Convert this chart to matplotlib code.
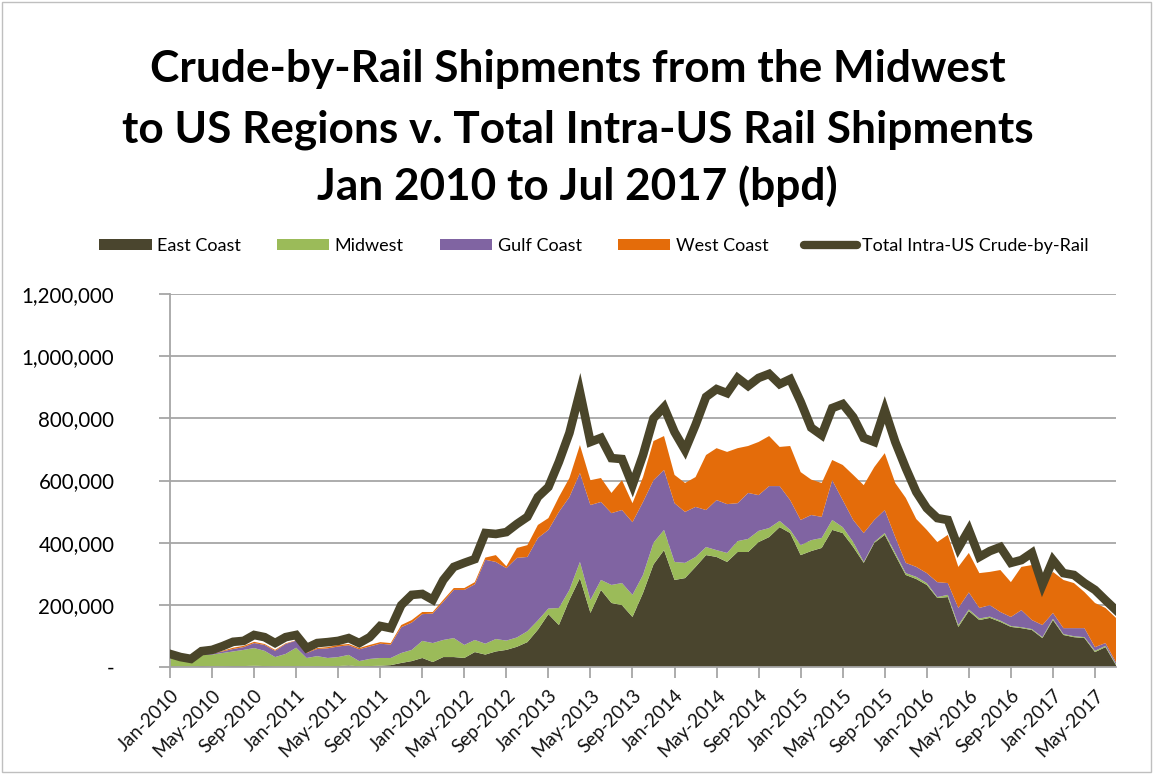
import matplotlib
matplotlib.use("Agg")
import matplotlib.pyplot as plt
from matplotlib.patches import Patch, Rectangle
from matplotlib.lines import Line2D
from matplotlib.ticker import FuncFormatter, FixedLocator
import matplotlib.transforms as mtransforms

plt.rcParams['font.family'] = ['Lato', 'DejaVu Sans']

# Monthly crude-by-rail volumes, thousand barrels per day, Jan 2010 .. Jul 2017
east_coast = [2, 1, 1, 3, 2, 2, 3, 3, 4, 3, 2, 2, 2, 1, 2, 2, 3, 5, 2, 3,
              4, 6, 13, 19, 29, 16, 32, 32, 29, 48, 40, 50, 55, 65, 80, 120, 170, 135, 216, 286,
              174, 248, 206, 199, 161, 238, 330, 376, 280, 286, 322, 360, 354, 338, 370, 370, 402, 418, 450, 431,
              360, 373, 383, 441, 431, 386, 335, 399, 425, 360, 296, 283, 264, 222, 225, 129, 180, 151, 158, 145,
              129, 125, 119, 93, 151, 103, 96, 93, 48, 64, 6]
midwest = [28, 21, 17, 35, 38, 43, 47, 52, 57, 49, 30, 40, 60, 28, 33, 27, 29, 34, 17, 23,
           25, 23, 32, 36, 55, 61, 55, 61, 42, 39, 35, 40, 30, 30, 35, 30, 18, 55, 32, 52,
           42, 32, 58, 71, 71, 58, 70, 65, 58, 49, 32, 26, 22, 29, 35, 42, 36, 29, 20, 10,
           32, 35, 32, 32, 19, 16, 3, 3, 6, 7, 6, 7, 6, 3, 7, 6, 5, 5, 4, 4,
           3, 3, 3, 3, 4, 3, 3, 3, 4, 4, 3]
gulf_coast = [2, 2, 2, 2, 3, 5, 8, 9, 16, 19, 20, 32, 23, 16, 23, 31, 34, 31, 38, 40,
              46, 43, 83, 88, 86, 95, 123, 155, 177, 179, 270, 248, 233, 256, 239, 265, 253, 309, 299, 286,
              305, 251, 231, 235, 234, 235, 201, 193, 189, 164, 161, 119, 161, 157, 122, 148, 115, 135, 112, 96,
              81, 81, 68, 128, 87, 71, 93, 71, 74, 51, 33, 32, 32, 48, 38, 55, 55, 34, 37, 28,
              29, 55, 29, 39, 19, 19, 26, 29, 12, 9, 6]
west_coast = [1, 1, 1, 1, 1, 2, 4, 4, 4, 3, 3, 2, 1, 2, 3, 4, 5, 4, 4, 5,
              5, 5, 7, 8, 7, 5, 6, 6, 6, 7, 7, 22, 6, 32, 38, 42, 38, 48, 61, 90,
              80, 77, 65, 96, 61, 80, 126, 109, 91, 93, 96, 177, 167, 168, 177, 151, 171, 161, 126, 174,
              154, 114, 109, 65, 113, 145, 154, 170, 183, 174, 209, 154, 139, 129, 155, 132, 127, 112, 107, 135,
              112, 139, 177, 120, 132, 155, 145, 116, 142, 113, 143]
total_intra_us = [42, 32, 26, 51, 55, 67, 81, 84, 103, 96, 77, 96, 103, 61, 77, 80, 84, 93, 77, 96,
                  132, 125, 199, 232, 235, 216, 280, 322, 335, 347, 431, 428, 434, 460, 483, 547, 579, 660, 753, 885,
                  724, 737, 672, 669, 585, 682, 800, 836, 756, 698, 779, 869, 894, 881, 930, 904, 930, 943, 910, 926,
                  853, 770, 746, 833, 846, 804, 737, 724, 827, 724, 640, 563, 511, 479, 473, 383, 441, 354, 373, 386,
                  335, 344, 367, 264, 344, 302, 296, 270, 248, 215, 183]

series_names = ["East Coast", "Midwest", "Gulf Coast", "West Coast"]
total_name = "Total Intra-US Crude-by-Rail"
tick_labels = ["Jan-2010", "May-2010", "Sep-2010", "Jan-2011", "May-2011", "Sep-2011",
               "Jan-2012", "May-2012", "Sep-2012", "Jan-2013", "May-2013", "Sep-2013",
               "Jan-2014", "May-2014", "Sep-2014", "Jan-2015", "May-2015", "Sep-2015",
               "Jan-2016", "May-2016", "Sep-2016", "Jan-2017", "May-2017"]
title_lines = ["Crude-by-Rail Shipments from the Midwest",
               "to US Regions v. Total Intra-US Rail Shipments",
               "Jan 2010 to Jul 2017 (bpd)"]

colors = ["#4a452e", "#9bbb59", "#8064a2", "#e46c0a"]
line_color = "#4a452a"
grid_color = "#a6a6a6"

W, H = 1155, 774
fig = plt.figure(figsize=(W / 100, H / 100), dpi=100)
fig.patch.set_facecolor("white")

ax = fig.add_axes([170 / W, 1 - 667 / H, (1116 - 170) / W, (667 - 294) / H])
months = list(range(len(total_intra_us)))
scale = 1000
stack = [[v * scale for v in s] for s in (east_coast, midwest, gulf_coast, west_coast)]
ax.stackplot(months, *stack, colors=colors, linewidth=0, zorder=2)
ax.plot(months, [v * scale for v in total_intra_us], color=line_color, lw=6.2,
        solid_joinstyle="miter", zorder=3)

ax.set_xlim(0, len(months) - 1)
ax.set_ylim(0, 1200000)
ax.set_yticks(range(0, 1200001, 200000))
ax.yaxis.set_major_formatter(FuncFormatter(lambda v, p: "-" if v == 0 else f"{v:,.0f}"))
ax.yaxis.grid(True, color=grid_color, lw=1.3)
ax.set_axisbelow(True)

ax.xaxis.set_major_locator(FixedLocator(months[::4]))
ax.set_xticklabels(tick_labels, rotation=45, ha="right", va="top",
                   rotation_mode="anchor", fontsize=13.5, color="#111111")
offset = mtransforms.ScaledTranslation(7 / 100, -1 / 100, fig.dpi_scale_trans)
for lab in ax.get_xticklabels():
    lab.set_transform(lab.get_transform() + offset)

for side in ("top", "right"):
    ax.spines[side].set_visible(False)
for side in ("left", "bottom"):
    ax.spines[side].set_color(grid_color)
    ax.spines[side].set_linewidth(1.3)
ax.tick_params(axis="y", length=8, width=1.3, color=grid_color, pad=32, labelsize=14.8)
ax.tick_params(axis="x", length=8, width=1.3, color=grid_color, pad=6)

# Title, one line at a time
for text, base in zip(title_lines, (82, 142, 200)):
    fig.text(0.5, 1 - base / H, text, ha="center", va="baseline",
             fontsize=31.8, fontweight="bold", color="black")

handles = [Patch(facecolor=c, edgecolor="none") for c in colors]
handles.append(Line2D([], [], color=line_color, lw=6, solid_capstyle="round"))
fig.legend(handles, series_names + [total_name], loc="center",
           bbox_to_anchor=(594 / W, 1 - 246 / H), ncol=5, frameon=False,
           fontsize=13, handlelength=2.9, handleheight=0.6, columnspacing=2.0,
           handletextpad=0.3)

fig.add_artist(Rectangle((2 / W, 2 / H), (W - 6) / W, (H - 4) / H,
                         transform=fig.transFigure, fill=False,
                         edgecolor="#bfbfbf", lw=1))

fig.savefig("out.png", dpi=100)
